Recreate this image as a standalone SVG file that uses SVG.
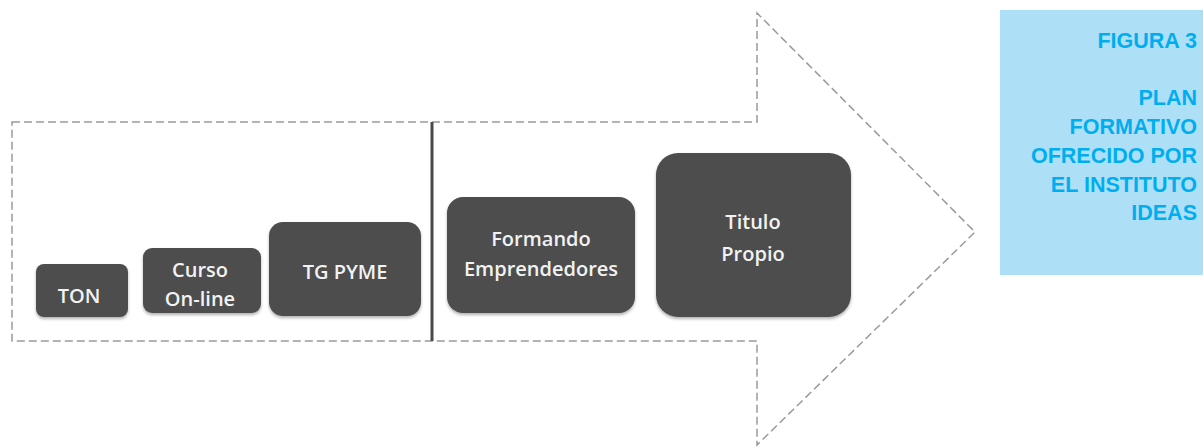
<svg xmlns="http://www.w3.org/2000/svg" width="1203" height="448" viewBox="0 0 1203 448">
<style>
.outline{fill:none;stroke:#9a9a9a;stroke-width:1.5;stroke-dasharray:8 4}
.box{fill:#4d4d4d;filter:url(#sh)}
.lbl{font-family:"Open Sans",sans-serif;font-weight:600;font-size:20px;fill:#f2f2f2;text-anchor:middle}
.cap{font-family:"Liberation Sans",Arial,sans-serif;font-weight:bold;font-size:21.5px;fill:#00aeef;text-anchor:end}
</style>
<defs>
<filter id="sh" x="-10%" y="-10%" width="130%" height="130%">
<feDropShadow dx="0" dy="2" stdDeviation="1.5" flood-color="#000" flood-opacity="0.3"/>
</filter>
</defs>
<rect width="1203" height="448" fill="#fff"/>
<g id="arrow">
<path class="outline" d="M12,122 H757 V13 L975,232 L757,445 V341 H12 Z"/>
<line x1="432" y1="122" x2="432" y2="341" stroke="#4a4a4a" stroke-width="3"/>
</g>
<g id="ton">
<rect class="box" x="36" y="264" width="92" height="53" rx="8"/>
<text class="lbl" x="79" y="303">TON</text>
</g>
<g id="curso">
<rect class="box" x="143" y="248" width="118" height="65" rx="9"/>
<text class="lbl" x="200" y="277">Curso</text>
<text class="lbl" x="200" y="306">On-line</text>
</g>
<g id="tgpyme">
<rect class="box" x="269" y="222" width="152" height="94" rx="14"/>
<text class="lbl" x="345" y="279">TG PYME</text>
</g>
<g id="formando">
<rect class="box" x="447" y="197" width="188" height="116" rx="16"/>
<text class="lbl" x="541" y="246">Formando</text>
<text class="lbl" x="541" y="276">Emprendedores</text>
</g>
<g id="titulo">
<rect class="box" x="656" y="153" width="195" height="164" rx="22"/>
<text class="lbl" x="753" y="229" font-size="23">Titulo</text>
<text class="lbl" x="753" y="261" font-size="23">Propio</text>
</g>
<g id="caption">
<rect x="1000" y="10" width="203" height="265" fill="#ade0f7"/>
<text class="cap" x="1197" y="48">FIGURA 3</text>
<text class="cap" x="1197" y="105">PLAN</text>
<text class="cap" x="1197" y="134">FORMATIVO</text>
<text class="cap" x="1197" y="163">OFRECIDO POR</text>
<text class="cap" x="1197" y="192">EL INSTITUTO</text>
<text class="cap" x="1197" y="220">IDEAS</text>
</g>
</svg>
